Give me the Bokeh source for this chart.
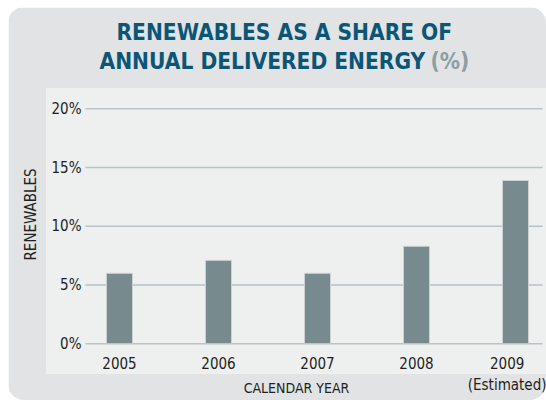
from bokeh.plotting import figure
from bokeh.models import Title, FixedTicker, Range1d, ColumnDataSource
from bokeh.embed import file_html
from bokeh.resources import INLINE

years = ["2005", "2006", "2007", "2008", "2009"]
year_notes = ["", "", "", "", "(Estimated)"]
renewables_pct = [6.0, 7.1, 6.0, 8.3, 13.9]
y_ticks = [0, 5, 10, 15, 20]
y_tick_labels = ["0%", "5%", "10%", "15%", "20%"]

FONT = "'Liberation Sans Narrow', 'Noto Sans Condensed', 'DejaVu Sans Condensed', sans-serif"
OUTER = "#e1e3e4"
PANEL = "#eef0f0"
TITLE_C = "#0b5577"
TEXT_C = "#231f20"

xs = list(range(len(years)))
src = ColumnDataSource(dict(x=xs, top=renewables_pct))

p = figure(width=538, height=393, output_backend="svg", toolbar_location=None,
           x_range=Range1d(-0.737, 4.313), y_range=Range1d(-2.53, 21.73),
           min_border_left=38, min_border_right=0, min_border_top=81, min_border_bottom=27)
p.background_fill_color = PANEL
p.border_fill_color = OUTER
p.outline_line_color = None
p.styles = {"margin": "7px 0 0 8px", "border-radius": "16px", "overflow": "hidden"}

# grid lines from tick values
p.xgrid.grid_line_color = None
p.ygrid.grid_line_color = None
p.segment(x0=[-0.343] * len(y_ticks), x1=[4.273] * len(y_ticks), y0=y_ticks, y1=y_ticks,
          line_color="#b9c2c6", line_width=1.5)

p.vbar(x="x", top="top", bottom=0, width=0.263, source=src,
       fill_color="#778a8e", line_color="#cdd3d5", line_width=1)

# axes
xa = p.xaxis[0]
xa.ticker = FixedTicker(ticks=xs)
xa.major_label_overrides = {i: (y if not n else y + "\n" + n) for i, (y, n) in enumerate(zip(years, year_notes))}
xa.axis_line_color = None
xa.major_tick_line_color = None
xa.minor_tick_line_color = None
xa.major_label_standoff = -25
xa.major_label_text_font = FONT
xa.major_label_text_font_size = "15px"
xa.major_label_text_color = TEXT_C
xa.axis_label = "CALENDAR YEAR"
xa.axis_label_text_font = FONT
xa.axis_label_text_font_size = "14px"
xa.axis_label_text_font_style = "normal"
xa.axis_label_text_color = TEXT_C
xa.axis_label_standoff = -17

ya = p.yaxis[0]
ya.ticker = FixedTicker(ticks=y_ticks)
ya.major_label_overrides = {t: l for t, l in zip(y_ticks, y_tick_labels)}
ya.axis_line_color = None
ya.major_tick_line_color = None
ya.minor_tick_line_color = None
ya.major_label_standoff = -41
ya.major_label_text_font = FONT
ya.major_label_text_font_size = "15px"
ya.major_label_text_color = TEXT_C

# vertical axis title, placed along the left side
ylab = Title(text="RENEWABLES", align="left", offset=113, text_font=FONT,
             text_font_size="15px", text_font_style="normal", text_color=TEXT_C, standoff=14)
p.add_layout(ylab, "left")

# titles (first added sits closest to the plot)
t2 = Title(text="ANNUAL DELIVERED ENERGY", align="left", offset=53, text_font=FONT,
           text_font_size="22.5px", text_font_style="bold", text_color=TITLE_C, standoff=30)
t1 = Title(text="RENEWABLES AS A SHARE OF", align="left", offset=70, text_font=FONT,
           text_font_size="22.5px", text_font_style="bold", text_color=TITLE_C, standoff=-28)
tp = Title(text="(%)", align="left", offset=384, text_font=FONT,
           text_font_size="22.5px", text_font_style="bold", text_color="#8c9ea5", standoff=-86)
p.add_layout(t2, "above")
p.add_layout(t1, "above")
p.add_layout(tp, "above")

open("out.html", "w").write(file_html(p, INLINE))
